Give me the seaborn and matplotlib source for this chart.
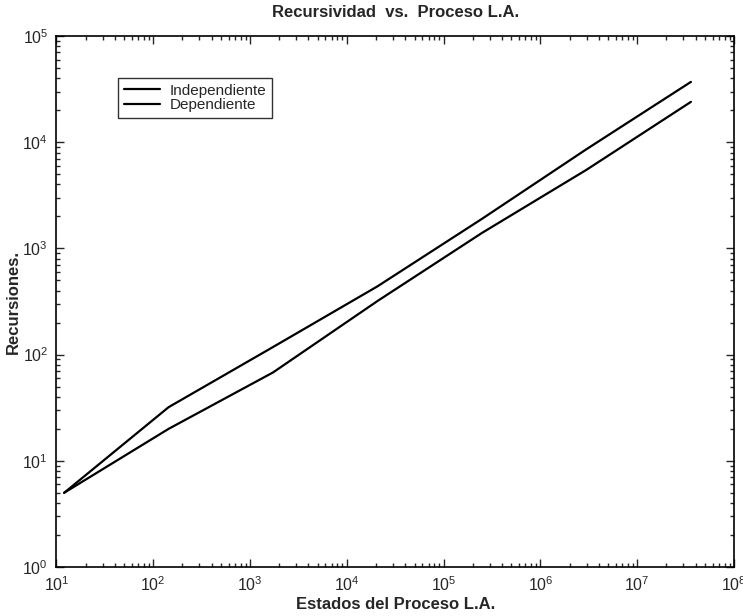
import pandas as pd
import seaborn as sns
import matplotlib
matplotlib.use('Agg')
import matplotlib.pyplot as plt
from matplotlib.ticker import LogLocator, NullFormatter

# Datos (estados = 12^n)
estados = [12, 144, 1728, 20736, 248832, 2985984, 35831808]
independiente = [5, 32, 118, 440, 1900, 8600, 37000]
dependiente = [5, 20, 68, 320, 1400, 5500, 24000]
series = ['Independiente', 'Dependiente']

df = pd.DataFrame({
    'Estados': estados * 2,
    'Recursiones': independiente + dependiente,
    'Serie': [series[0]] * len(estados) + [series[1]] * len(estados),
})

sns.set_style('ticks')
plt.rcParams['font.family'] = ['Liberation Sans', 'DejaVu Sans']
plt.rcParams['mathtext.fontset'] = 'custom'
plt.rcParams['mathtext.rm'] = 'Liberation Sans'

fig = plt.figure(figsize=(7.43, 6.16), dpi=100)
ax = fig.add_axes([0.076, 0.0795, 0.912, 0.862])

sns.lineplot(data=df, x='Estados', y='Recursiones', hue='Serie', hue_order=series,
             palette=['black', 'black'], linewidth=1.6, ax=ax)

ax.set_xscale('log')
ax.set_yscale('log')
ax.set_xlim(1e1, 1e8)
ax.set_ylim(1e0, 1e5)
ax.xaxis.set_major_locator(LogLocator(base=10, numticks=10))
ax.yaxis.set_major_locator(LogLocator(base=10, numticks=10))
ax.xaxis.set_minor_locator(LogLocator(base=10, subs=range(2, 10), numticks=20))
ax.yaxis.set_minor_locator(LogLocator(base=10, subs=range(2, 10), numticks=20))
ax.xaxis.set_minor_formatter(NullFormatter())
ax.yaxis.set_minor_formatter(NullFormatter())

ax.tick_params(which='both', direction='in', top=True, right=True, labelsize=11.5, width=1.0)
ax.tick_params(which='major', length=6, pad=6)
ax.tick_params(which='minor', length=3)
for s in ax.spines.values():
    s.set_linewidth(1.2)
    s.set_color('black')

ax.set_title('Recursividad  vs.  Proceso L.A.', fontsize=12, fontweight='bold', pad=14)
ax.set_xlabel('Estados del Proceso L.A.', fontsize=12, fontweight='bold', labelpad=2)
ax.set_ylabel('Recursiones.', fontsize=12, fontweight='bold', labelpad=1)

leg = ax.legend(loc='upper left', bbox_to_anchor=(0.08, 0.935), fontsize=11,
                frameon=True, fancybox=False, handlelength=2.4, borderpad=0.35,
                labelspacing=0.05, handletextpad=0.6)
leg.get_frame().set_edgecolor('black')
leg.get_frame().set_linewidth(1.0)

fig.savefig('out.png', dpi=100)
